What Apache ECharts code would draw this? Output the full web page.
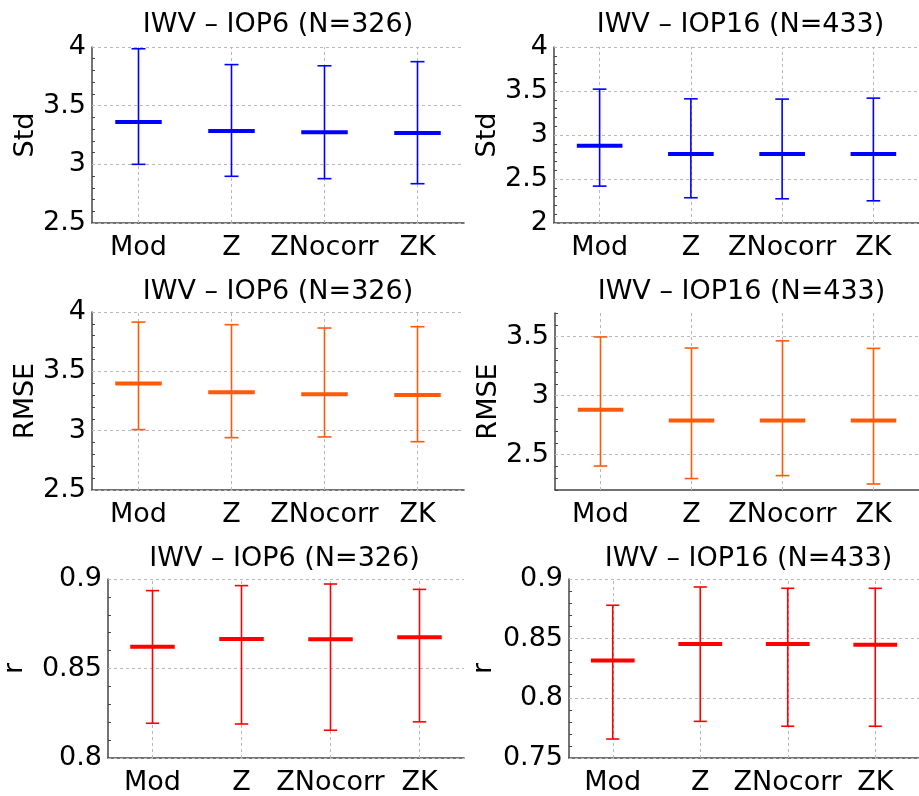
<!DOCTYPE html>
<html>
<head>
<meta charset="utf-8">
<script src="https://cdn.jsdelivr.net/npm/echarts@6/dist/echarts.min.js"></script>
<style>
  html, body { margin: 0; padding: 0; background: #fff; }
  #chart { width: 919px; height: 796px; }
</style>
</head>
<body>
<div id="chart"></div>
<script>
// categories / titles
const categories = ['Mod', 'Z', 'ZNocorr', 'ZK'];
const title6 = 'IWV \u2013 IOP6 (N=326)';
const title16 = 'IWV \u2013 IOP16 (N=433)';

// Std
const std6Lo  = [3.00, 2.898, 2.878, 2.835];
const std6Med = [3.36, 3.284, 3.273, 3.267];
const std6Hi  = [3.985, 3.85, 3.84, 3.875];
const std16Lo  = [2.419, 2.287, 2.275, 2.252];
const std16Med = [2.879, 2.785, 2.785, 2.785];
const std16Hi  = [3.521, 3.411, 3.408, 3.419];

// RMSE
const rmse6Lo  = [3.009, 2.941, 2.947, 2.907];
const rmse6Med = [3.397, 3.324, 3.307, 3.301];
const rmse6Hi  = [3.915, 3.893, 3.865, 3.876];
const rmse16Lo  = [2.403, 2.297, 2.322, 2.251];
const rmse16Med = [2.881, 2.788, 2.788, 2.788];
const rmse16Hi  = [3.497, 3.403, 3.464, 3.400];

// r
const r6Lo  = [0.8194, 0.8190, 0.8155, 0.8202];
const r6Med = [0.8622, 0.8665, 0.8663, 0.8674];
const r6Hi  = [0.8935, 0.8963, 0.8972, 0.8942];
const r16Lo  = [0.7659, 0.7807, 0.7766, 0.7766];
const r16Med = [0.8318, 0.8455, 0.8455, 0.8450];
const r16Hi  = [0.8780, 0.8933, 0.8922, 0.8922];

// tick labels
const std6Ticks = [2.5, 3, 3.5, 4];
const std16Ticks = [2, 2.5, 3, 3.5, 4];
const rmse6Ticks = [2.5, 3, 3.5, 4];
const rmse16Ticks = [2.5, 3, 3.5];
const r6Ticks = [0.8, 0.85, 0.9];
const r16Ticks = [0.75, 0.8, 0.85, 0.9];

const BLUE = '#0000ff', ORANGE = '#ff5a0a', RED = '#ff0000';
const AXIS = '#444', GRIDC = '#b8b8b8';
const FONT = 'DejaVu Sans';
const FS = 27;

const panels = [
  { title: title6,  name: 'Std',  color: BLUE,   lo: std6Lo,  med: std6Med,  hi: std6Hi,  ticks: std6Ticks,  min: 2.5,  max: 4,   step: 0.1,  box: [92, 47, 372, 176],  gap: 52 },
  { title: title16, name: 'Std',  color: BLUE,   lo: std16Lo, med: std16Med, hi: std16Hi, ticks: std16Ticks, min: 2,    max: 4,   step: 0.1,  box: [554, 47, 373, 176], gap: 50 },
  { title: title6,  name: 'RMSE', color: ORANGE, lo: rmse6Lo, med: rmse6Med, hi: rmse6Hi, ticks: rmse6Ticks, min: 2.5,  max: 4,   step: 0.1,  box: [92, 312, 372, 178], gap: 52 },
  { title: title16, name: 'RMSE', color: ORANGE, lo: rmse16Lo, med: rmse16Med, hi: rmse16Hi, ticks: rmse16Ticks, min: 2.2, max: 3.7, step: 0.1, box: [555, 313, 373, 177], gap: 51 },
  { title: title6,  name: 'r',    color: RED,    lo: r6Lo,    med: r6Med,    hi: r6Hi,    ticks: r6Ticks,    min: 0.8,  max: 0.9, step: 0.01, box: [105, 579, 359, 179], gap: 80 },
  { title: title16, name: 'r',    color: RED,    lo: r16Lo,   med: r16Med,   hi: r16Hi,   ticks: r16Ticks,   min: 0.75, max: 0.9, step: 0.01, box: [569, 579, 359, 179], gap: 72 }
];
const titleTops = [11, 278, 545];

function renderErr(color) {
  return function (params, api) {
    const i = api.value(0);
    const lo = api.coord([i, api.value(1)]);
    const md = api.coord([i, api.value(2)]);
    const hi = api.coord([i, api.value(3)]);
    const band = api.size([1, 0])[0];
    const cap = band * 0.075, half = band * 0.25;
    const thin = { stroke: color, lineWidth: 1.6 };
    return {
      type: 'group',
      children: [
        { type: 'line', shape: { x1: lo[0], y1: lo[1], x2: hi[0], y2: hi[1] }, style: thin },
        { type: 'line', shape: { x1: lo[0] - cap, y1: lo[1], x2: lo[0] + cap, y2: lo[1] }, style: thin },
        { type: 'line', shape: { x1: hi[0] - cap, y1: hi[1], x2: hi[0] + cap, y2: hi[1] }, style: thin },
        { type: 'line', shape: { x1: md[0] - half, y1: md[1], x2: md[0] + half, y2: md[1] }, style: { stroke: color, lineWidth: 4 } }
      ]
    };
  };
}

const option = { animation: false, title: [], grid: [], xAxis: [], yAxis: [], series: [] };

panels.forEach((p, k) => {
  const [left, top, width, height] = p.box;
  option.grid.push({ left: left, top: top, width: width, height: height });
  option.title.push({
    text: p.title, left: left + width / 2, top: titleTops[Math.floor(k / 2)],
    textAlign: 'center', padding: 0,
    textStyle: { fontFamily: FONT, fontSize: FS, fontWeight: 'normal', color: '#000' }
  });
  // main category axis: labels and outward ticks at centres
  option.xAxis.push({
    type: 'category', gridIndex: k, data: categories, position: 'bottom',
    axisLine: { onZero: false, lineStyle: { color: AXIS, width: 1.5 } },
    axisTick: { alignWithLabel: true, length: 4, lineStyle: { color: AXIS } },
    axisLabel: { fontFamily: FONT, fontSize: FS, color: '#000', margin: 11, interval: 0, hideOverlap: false },
    splitLine: { show: false }
  });
  // boundary ticks pointing inward
  option.xAxis.push({
    type: 'category', gridIndex: k, data: categories, position: 'bottom',
    axisLine: { show: false },
    axisTick: { inside: true, length: 3, lineStyle: { color: AXIS } },
    axisLabel: { show: false }, splitLine: { show: false }
  });
  option.yAxis.push({
    type: 'value', gridIndex: k, min: p.min, max: p.max, interval: p.step,
    name: p.name, nameLocation: 'middle', nameGap: p.gap, nameRotate: 90,
    nameTextStyle: { fontFamily: FONT, fontSize: FS, color: '#000' },
    axisLine: { show: true, lineStyle: { color: AXIS, width: 1.5 } },
    axisTick: { show: true, inside: true, length: 3, lineStyle: { color: AXIS } },
    axisLabel: {
      fontFamily: FONT, fontSize: FS, color: '#000', margin: 6,
      formatter: v => p.ticks.some(t => Math.abs(t - v) < 1e-7) ? String(+v.toFixed(3)) : ''
    },
    splitLine: { show: false }
  });
  // dashed grid lines
  option.series.push({
    type: 'line', xAxisIndex: 2 * k, yAxisIndex: k, data: [], silent: true, z: 1,
    markLine: {
      silent: true, symbol: ['none', 'none'], label: { show: false }, animation: false, z: 1,
      lineStyle: { color: GRIDC, type: [3, 3], width: 1 },
      data: p.ticks.map(t => ({ yAxis: t })).concat(categories.map(c => ({ xAxis: c })))
    }
  });
  option.series.push({
    type: 'custom', xAxisIndex: 2 * k, yAxisIndex: k, z: 4,
    renderItem: renderErr(p.color),
    data: categories.map((c, i) => [i, p.lo[i], p.med[i], p.hi[i]])
  });
});

const chart = echarts.init(document.getElementById('chart'));
chart.setOption(option);
</script>
</body>
</html>
